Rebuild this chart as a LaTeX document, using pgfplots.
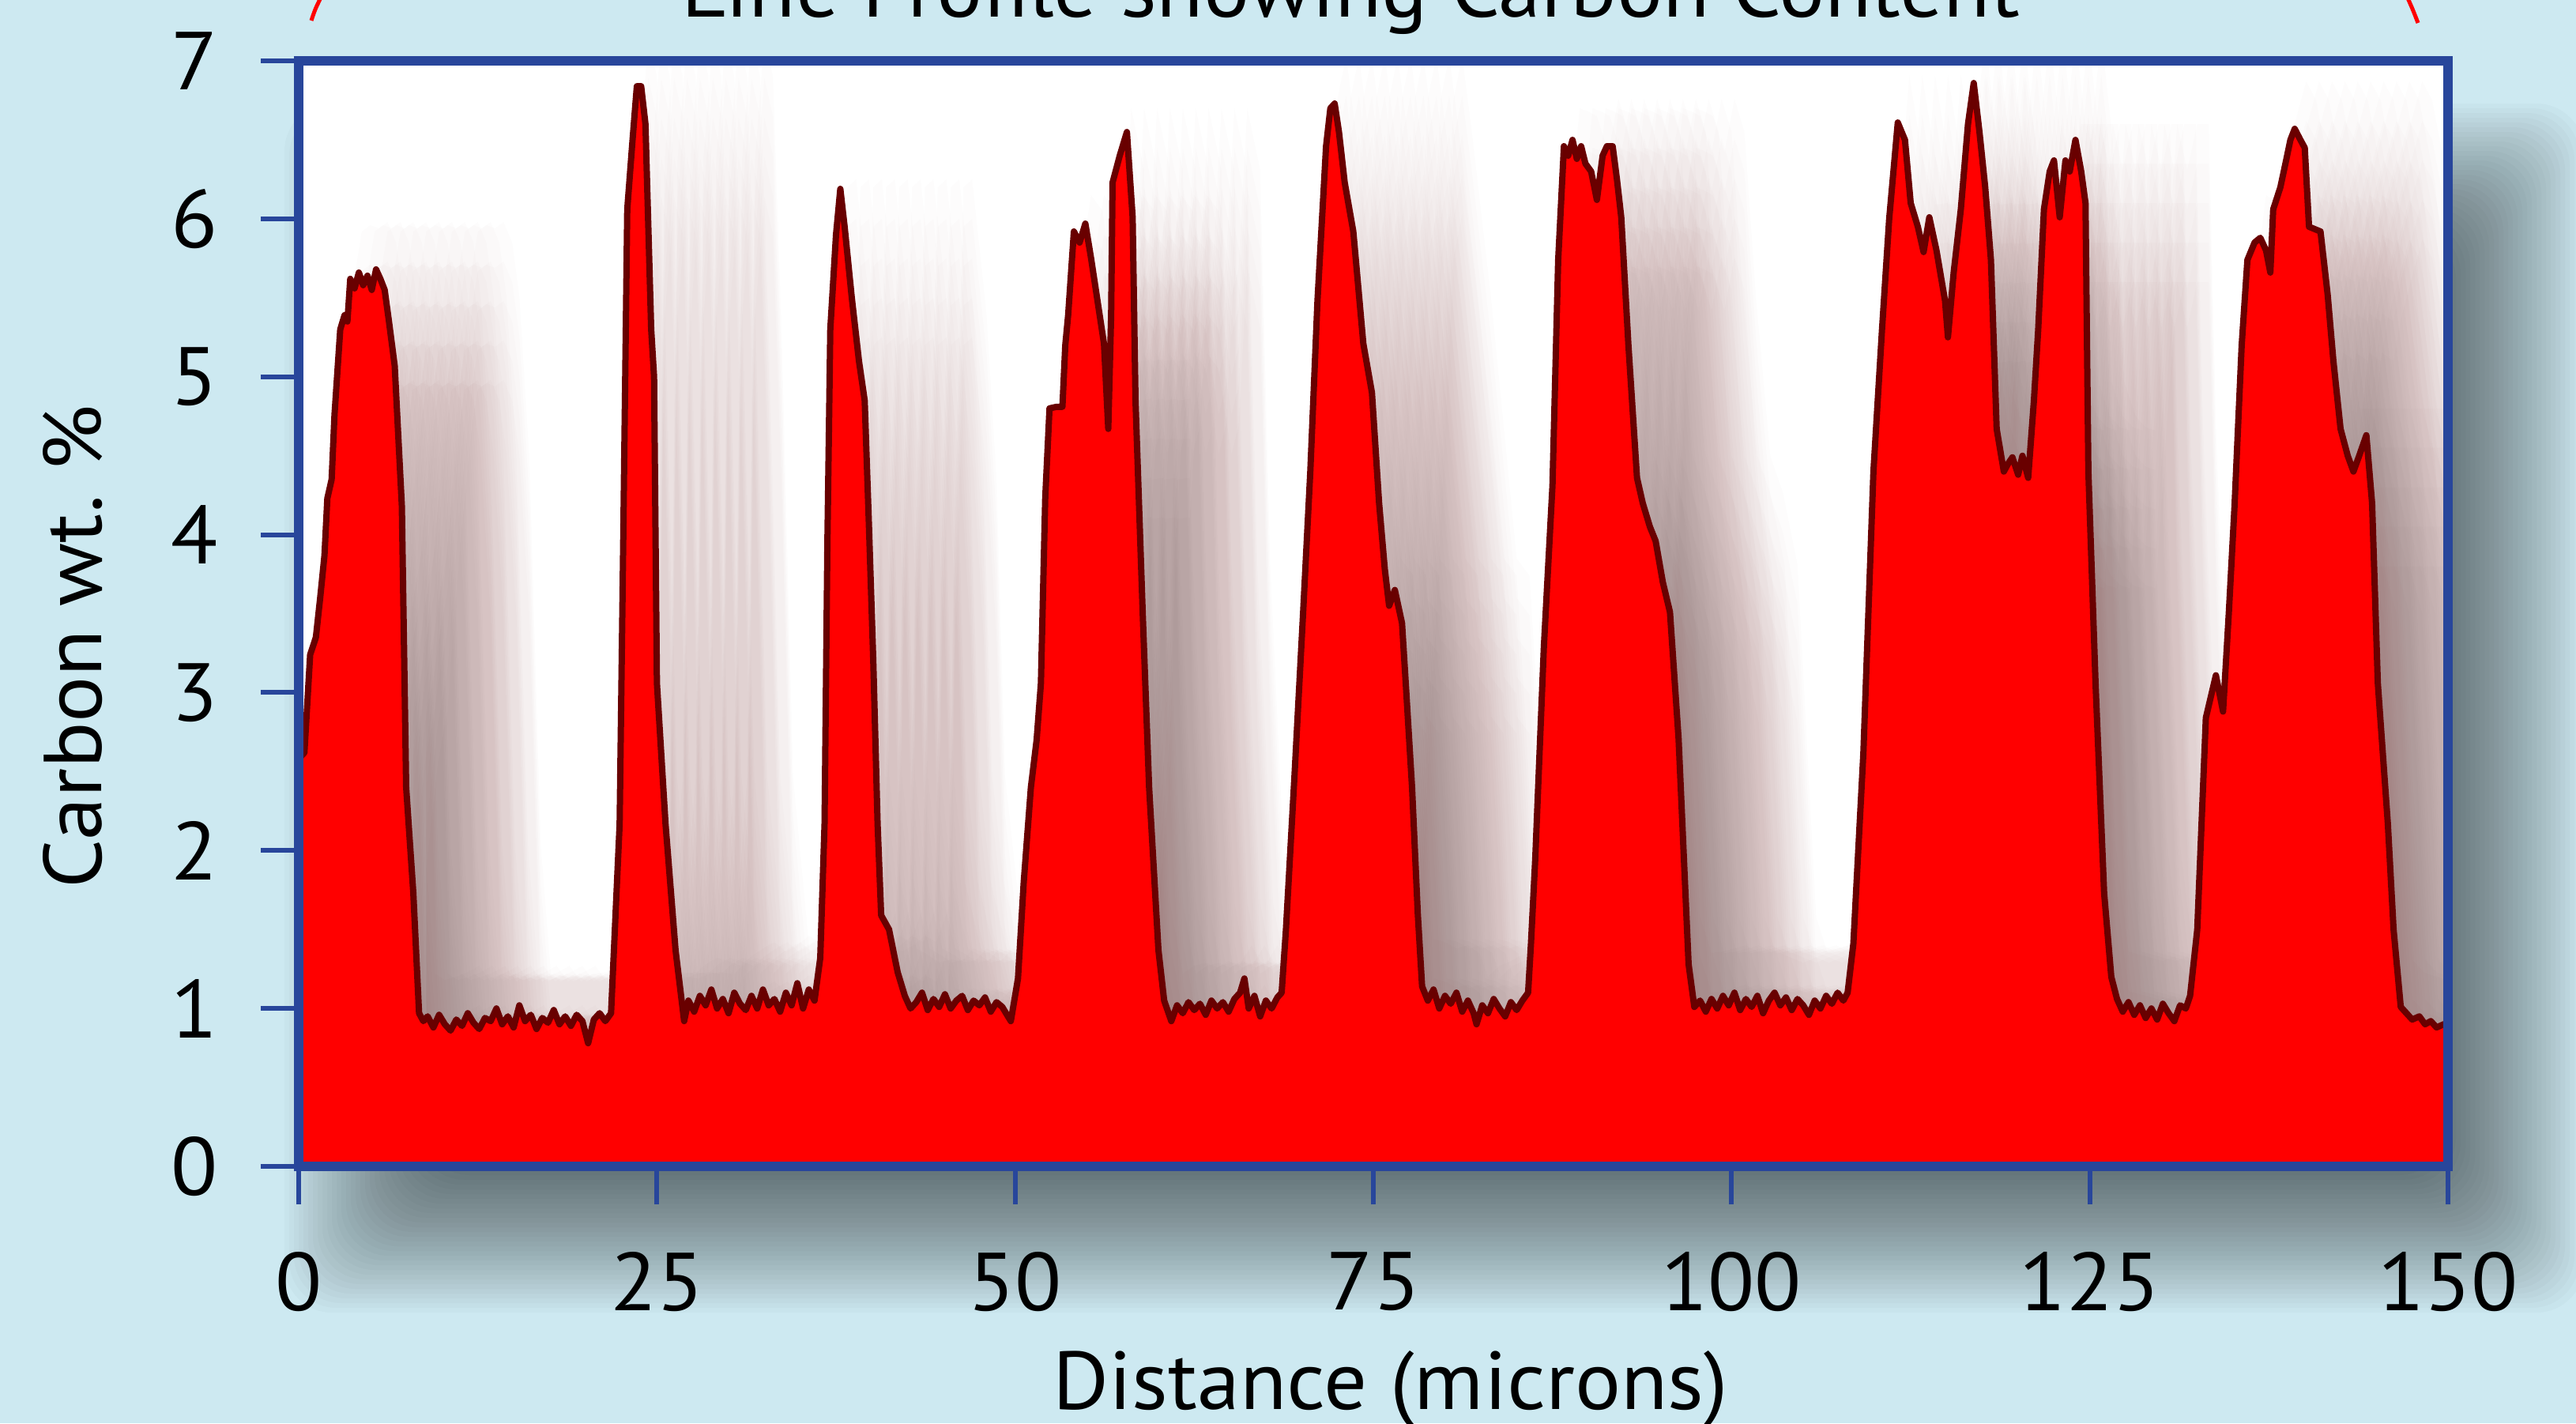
\documentclass[border=0pt]{standalone}
\usepackage{pgfplots}
\pgfplotsset{compat=1.18}
\usepackage{pgfplotstable}
\usepackage{fontspec}
\setmainfont{PT Sans}[FakeStretch=1.045]
\definecolor{bgblue}{RGB}{205,233,241}
\definecolor{frameblue}{RGB}{40,70,155}
\definecolor{outlinec}{RGB}{105,0,0}
\definecolor{shadowc}{RGB}{90,25,25}
\pgfplotstableread{
x y
0 2.58
0.4 2.62
0.8 3.24
1.2 3.35
1.5 3.6
1.8 3.87
2.0 4.23
2.3 4.35
2.5 4.76
2.9 5.30
3.2 5.39
3.4 5.35
3.6 5.62
3.9 5.56
4.2 5.66
4.5 5.58
4.8 5.64
5.1 5.55
5.4 5.68
5.7 5.62
6.0 5.55
6.3 5.35
6.5 5.21
6.7 5.07
7.2 4.18
7.5 2.40
8.0 1.73
8.4 0.97
8.7 0.92
9.0 0.95
9.4 0.88
9.8 0.96
10.2 0.90
10.6 0.86
11.0 0.93
11.4 0.89
11.8 0.97
12.2 0.91
12.6 0.87
13.0 0.94
13.4 0.92
13.8 1.0
14.2 0.9
14.6 0.95
15.0 0.88
15.4 1.02
15.8 0.92
16.2 0.96
16.6 0.87
17.0 0.94
17.4 0.91
17.8 0.99
18.2 0.90
18.6 0.95
19.0 0.89
19.4 0.96
19.8 0.92
20.2 0.78
20.6 0.93
21.0 0.97
21.4 0.92
21.8 0.97
22.4 2.17
22.65 3.96
22.93 6.06
23.3 6.5
23.6 6.84
23.9 6.84
24.2 6.6
24.6 5.30
24.8 5.0
25.0 3.06
25.6 2.17
26.3 1.37
26.9 0.92
27.2 1.05
27.6 0.98
28.0 1.08
28.4 1.02
28.8 1.12
29.2 1.0
29.6 1.06
30.0 0.97
30.4 1.1
30.8 1.03
31.2 0.99
31.6 1.08
32.0 1.0
32.4 1.12
32.8 1.02
33.2 1.06
33.6 0.98
34.0 1.1
34.4 1.02
34.8 1.16
35.2 1.0
35.6 1.12
36.0 1.05
36.4 1.32
36.7 2.17
36.9 3.96
37.1 5.30
37.5 5.9
37.8 6.19
38.1 5.95
38.6 5.5
39.1 5.1
39.5 4.85
39.8 4.05
40.1 3.2
40.4 2.17
40.65 1.59
41.2 1.5
41.8 1.23
42.3 1.08
42.7 1.0
43.1 1.04
43.5 1.1
43.9 0.99
44.3 1.06
44.7 1.01
45.1 1.09
45.5 1.0
45.9 1.05
46.3 1.08
46.7 0.99
47.1 1.05
47.5 1.02
47.9 1.07
48.3 0.98
48.7 1.04
49.1 1.01
49.5 0.95
49.7 0.92
50.2 1.19
50.6 1.8
51.1 2.40
51.5 2.7
51.8 3.06
52.1 4.23
52.4 4.80
52.9 4.81
53.3 4.81
53.5 5.2
53.7 5.39
54.1 5.92
54.5 5.85
54.9 5.97
55.3 5.75
55.8 5.45
56.2 5.21
56.5 4.67
56.7 5.39
56.8 6.23
57.3 6.4
57.8 6.55
58.2 6.01
58.4 4.85
58.9 3.51
59.35 2.40
60.0 1.37
60.4 1.05
60.9 0.92
61.3 1.02
61.7 0.97
62.1 1.04
62.5 0.99
62.9 1.03
63.3 0.96
63.7 1.05
64.1 1.0
64.5 1.04
64.9 0.98
65.3 1.06
65.7 1.1
66.0 1.19
66.3 1.0
66.7 1.08
67.1 0.95
67.5 1.05
67.9 1.0
68.3 1.07
68.6 1.1
68.9 1.5
69.5 2.48
70.1 3.51
70.6 4.4
71.1 5.48
71.7 6.46
72.0 6.7
72.3 6.73
72.6 6.55
73.0 6.23
73.6 5.92
74.3 5.21
74.9 4.9
75.4 4.2
75.8 3.78
76.1 3.55
76.5 3.65
77.0 3.44
77.3 3.0
77.7 2.40
78.1 1.6
78.4 1.14
78.8 1.05
79.2 1.12
79.6 1.0
80.0 1.08
80.4 1.03
80.8 1.1
81.2 0.98
81.6 1.05
82.0 0.97
82.2 0.9
82.6 1.02
83.0 0.97
83.4 1.06
83.8 1.0
84.2 0.95
84.6 1.04
85.0 0.99
85.4 1.05
85.8 1.1
86.0 1.41
86.3 1.95
86.9 3.29
87.5 4.31
87.9 5.74
88.3 6.46
88.6 6.4
88.9 6.5
89.2 6.38
89.5 6.46
89.8 6.35
90.2 6.3
90.6 6.12
91.0 6.4
91.3 6.46
91.7 6.46
92.0 6.25
92.3 6.01
92.8 5.2
93.4 4.36
93.8 4.2
94.3 4.05
94.7 3.96
95.2 3.7
95.7 3.51
96.3 2.71
97.0 1.28
97.4 1.01
97.8 1.05
98.2 0.98
98.6 1.06
99.0 1.0
99.4 1.08
99.8 1.02
100.2 1.1
100.6 0.99
101.0 1.06
101.4 1.01
101.8 1.08
102.2 0.97
102.6 1.05
103.0 1.1
103.4 1.02
103.8 1.07
104.2 0.99
104.6 1.06
105.0 1.02
105.4 0.96
105.8 1.05
106.2 1.0
106.6 1.08
107.0 1.03
107.4 1.1
107.8 1.05
108.1 1.1
108.5 1.41
109.2 2.62
109.9 4.40
110.5 5.30
111.0 6.0
111.6 6.61
112.1 6.5
112.5 6.10
113.0 5.95
113.4 5.79
113.8 6.01
114.3 5.8
114.9 5.48
115.1 5.25
115.5 5.66
116.0 6.06
116.5 6.6
116.9 6.86
117.3 6.55
117.7 6.2
118.1 5.74
118.5 4.67
119.0 4.40
119.3 4.45
119.6 4.49
120.0 4.38
120.3 4.5
120.7 4.36
121.1 4.85
121.4 5.3
121.8 6.06
122.2 6.3
122.5 6.37
122.9 6.01
123.3 6.37
123.6 6.3
124.0 6.50
124.4 6.3
124.7 6.10
124.9 4.40
125.4 3.06
126.0 1.73
126.5 1.2
126.9 1.06
127.3 0.98
127.7 1.04
128.1 0.96
128.5 1.02
128.9 0.94
129.3 1.0
129.7 0.93
130.1 1.03
130.5 0.97
130.9 0.92
131.3 1.02
131.7 1.0
132.0 1.08
132.5 1.5
133.1 2.84
133.8 3.11
134.3 2.88
134.7 3.5
135.1 4.18
135.6 5.2
136.0 5.74
136.5 5.85
136.9 5.88
137.3 5.8
137.6 5.66
137.8 6.06
138.3 6.2
138.7 6.37
139.0 6.5
139.3 6.57
139.7 6.5
140.0 6.45
140.3 5.95
141.1 5.92
141.6 5.52
142.0 5.1
142.5 4.67
143.0 4.5
143.4 4.40
143.8 4.5
144.3 4.63
144.7 4.2
145.1 3.06
145.8 2.17
146.2 1.5
146.7 1.01
147.1 0.97
147.5 0.93
148.0 0.95
148.4 0.9
148.8 0.92
149.2 0.88
149.7 0.90
150 0.87
}\carbon
\begin{document}
\fontsize{10.4pt}{12.5pt}\selectfont
\begin{tikzpicture}
\useasboundingbox (0,0) rectangle (326pt,180.1pt);
\fill[bgblue] (0,0) rectangle (326pt,180.1pt);
% soft drop shadow of the plot frame
\foreach \i in {0,...,33}{
  \fill[black, opacity=0.0185, rounded corners=6pt]
    ({(36+0.6*\i)*1pt},{(14+0.6*\i)*1pt}) rectangle ({(327-0.6*\i)*1pt},{(167-0.6*\i)*1pt});
}
\node[anchor=base] at (170.9pt,178.0pt) {Line Profile showing Carbon Content};
\draw[red, line width=0.5pt] (39.4pt,177.5pt) .. controls (39.9pt,179pt) .. (40.9pt,181pt);
\draw[red, line width=0.5pt] (304.4pt,181pt) .. controls (305.3pt,179pt) .. (306pt,177.2pt);
\begin{axis}[
  at={(37.8pt,32.5pt)}, anchor=south west,
  scale only axis, width=272pt, height=139.9pt,
  xmin=0, xmax=150, ymin=0, ymax=7,
  xtick={0,25,...,150}, ytick={0,1,...,7},
  tick pos=left, tick align=outside, major tick length=4.8pt,
  axis line style={frameblue, line width=1.2pt},
  tick style={frameblue, line width=0.6pt},
  axis background/.style={fill=white},
  axis on top,
  /pgf/number format/assume math mode=true,
  xticklabel style={yshift=-2.4pt},
  yticklabel style={xshift=-1.8pt},
  xlabel={Distance (microns)}, ylabel={Carbon wt.\ \%},
  xlabel style={at={(axis description cs:0.508,0)}, anchor=base, yshift=-30.7pt},
  ylabel style={at={(axis description cs:0,0.47)}, anchor=base, yshift=24.9pt},
  shadow/.style={draw=none, fill=shadowc, fill opacity=0.013, each nth point=2},
]
\pgfplotsinvokeforeach{0.8,1.7,2.6,3.5,4.4,5.3,6.2,7.1,8.0,8.9}{
  \addplot[shadow] table[x expr=\thisrow{x}+#1, y expr=\thisrow{y}-0.7] {\carbon} \closedcycle;
  \addplot[shadow] table[x expr=\thisrow{x}+#1, y expr=\thisrow{y}-0.45] {\carbon} \closedcycle;
  \addplot[shadow] table[x expr=\thisrow{x}+#1, y expr=\thisrow{y}-0.2] {\carbon} \closedcycle;
  \addplot[shadow] table[x expr=\thisrow{x}+#1, y expr=\thisrow{y}+0.05] {\carbon} \closedcycle;
  \addplot[shadow] table[x expr=\thisrow{x}+#1, y expr=\thisrow{y}+0.3] {\carbon} \closedcycle;
}
\addplot[fill=red, draw=outlinec, line width=0.8pt, line join=round] table[x=x,y=y] {\carbon} \closedcycle;
\end{axis}
\end{tikzpicture}
\end{document}
